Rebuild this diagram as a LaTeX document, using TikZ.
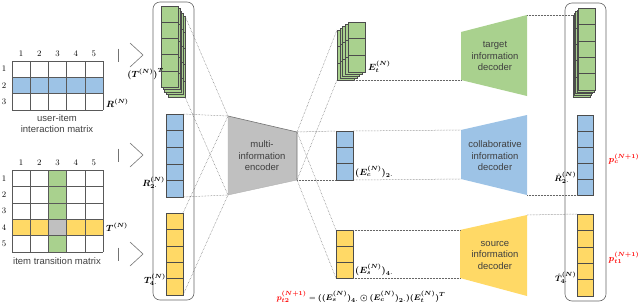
\documentclass[tikz,border=0pt]{standalone}
\usepackage{fontspec}
\usepackage{amsmath,bm}
\newfontfamily\sansf{Liberation Sans}
\definecolor{cgreen}{HTML}{A9D18E}
\definecolor{cblue}{HTML}{9DC3E6}
\definecolor{cyellow}{HTML}{FFD966}
\definecolor{cgray}{HTML}{C0C0C0}
\definecolor{ctext}{HTML}{404040}
\newcommand{\vcolumn}[6]{%
  \foreach \k in {1,...,#5} {\draw[cellst, fill=#6] (#1,{#2+(\k-1)*#4}) rectangle ++(#3,#4);}}
\begin{document}
\begin{tikzpicture}[x=1pt,y=-1pt,
  cellst/.style={draw=black!70, line width=0.5pt},
  gridst/.style={draw=black!65, line width=0.6pt},
  dots/.style={draw=black!60, densely dotted, line width=0.5pt},
  boxst/.style={draw=black!60, line width=0.6pt, rounded corners=7pt},
  arrst/.style={draw=black!55, line width=0.6pt},
  txt/.style={font=\sansf\fontsize{9.5}{11.5}\selectfont, text=ctext, align=center, inner sep=0pt},
  num/.style={font=\fontsize{8.5}{9}\selectfont, inner sep=0pt},
  lbl/.style={font=\fontsize{8.8}{10}\selectfont, inner sep=0pt},
  slbl/.style={font=\fontsize{8}{9}\selectfont, inner sep=0pt},
  redlbl/.style={font=\fontsize{8.8}{10}\selectfont, inner sep=0pt, text=red}
]
\useasboundingbox (0,0) rectangle (640,306);

% ---------- user-item matrix R ----------
\fill[cblue] (12,77.33) rectangle (103,93.67);
\foreach \c in {0,...,5} \draw[gridst] ({12+18.2*\c},61) -- ({12+18.2*\c},110);
\foreach \r in {0,...,3} \draw[gridst] (12,{61+16.33*\r}) -- (103,{61+16.33*\r});
\foreach \c in {1,...,5} \node[num] (rh\c) at ({12+18.2*(\c-0.5)},54) {\c};
\foreach \r in {1,2,3} \node[num] (rr\r) at (4,{61+16.33*(\r-0.5)}) {\r};
\node[lbl, anchor=west] (Rlab) at (106,103) {$\bm{R^{(N)}}$};
\node[txt] (Rcap) at (57,123.5) {user-item\\interaction matrix};

% ---------- item transition matrix T ----------
\fill[cgreen] (48.4,170) rectangle (66.6,252);
\fill[cyellow] (12,219.2) rectangle (103,235.6);
\fill[cgray] (48.4,219.2) rectangle (66.6,235.6);
\foreach \c in {0,...,5} \draw[gridst] ({12+18.2*\c},170) -- ({12+18.2*\c},252);
\foreach \r in {0,...,5} \draw[gridst] (12,{170+16.4*\r}) -- (103,{170+16.4*\r});
\foreach \c in {1,...,5} \node[num] (th\c) at ({12+18.2*(\c-0.5)},163) {\c};
\foreach \r in {1,...,5} \node[num] (tr\r) at (4,{170+16.4*(\r-0.5)}) {\r};
\node[lbl, anchor=west] (Tlab) at (106,227) {$\bm{T^{(N)}}$};
\node[txt] (Tcap) at (57,261) {item transition matrix};

% ---------- hollow arrows ----------
\foreach \cy/\nm in {55/a1,155/a2,254/a3} {
  \coordinate (\nm-tt) at (118,\cy-6.5);
  \coordinate (\nm-tb) at (118,\cy+6.5);
  \coordinate (\nm-h1) at (130,\cy-12);
  \coordinate (\nm-tip) at (143,\cy);
  \coordinate (\nm-h2) at (130,\cy+12);
  \draw[arrst] (\nm-tt) -- (\nm-tb);
  \draw[arrst] (\nm-h1) -- (\nm-tip) -- (\nm-h2);
}

% ---------- left bracket box ----------
\draw[boxst] (153,2) rectangle (194,300);

% left green stack (T^T)
\foreach \i in {4,3,2,1,0} {\vcolumn{161+1.75*\i}{6+2.5*\i}{17}{16.2}{5}{cgreen}}
\coordinate (gL-tr) at (185,16);
\coordinate (gL-br) at (185,97);
\node[lbl, anchor=east] (TTlab) at (164,74) {$\bm{(T^{(N)})^T}$};

% left blue column
\vcolumn{166}{114}{17}{16.6}{5}{cblue}
\coordinate (bL-tr) at (183,114);
\coordinate (bL-br) at (183,197);
\node[lbl, anchor=east] (R2lab) at (165,183) {$\bm{R^{(N)}_{2\cdot}}$};

% left yellow column
\vcolumn{166}{213}{17}{16.4}{5}{cyellow}
\coordinate (yL-tr) at (183,213);
\coordinate (yL-br) at (183,295);
\node[lbl, anchor=east] (T4lab) at (166,280) {$\bm{T^{(N)}_{4\cdot}}$};

% ---------- encoder ----------
\coordinate (enc-tl) at (228,116);
\coordinate (enc-tr) at (297,132);
\coordinate (enc-br) at (297,180);
\coordinate (enc-bl) at (228,195);
\fill[cgray] (enc-tl) -- (enc-tr) -- (enc-br) -- (enc-bl) -- cycle;
\draw[draw=black!55, line width=0.6pt] (enc-tl) -- (enc-tr) -- (enc-br);
\draw[draw=black!30, line width=0.4pt] (enc-br) -- (enc-bl) -- (enc-tl);
\node[txt] (enc) at (262,156) {multi-\\information\\encoder};

% left dotted projections
\draw[dots] (gL-tr) -- (enc-tl);
\draw[dots] (gL-br) -- (enc-bl);
\draw[dots] (bL-tr) -- (enc-tl);
\draw[dots] (bL-br) -- (enc-bl);
\draw[dots] (yL-tr) -- (enc-tl);
\draw[dots] (yL-br) -- (enc-bl);

% ---------- embeddings ----------
\foreach \i in {4,3,2,1,0} {\vcolumn{348-2.75*\i}{22+2*\i}{17}{16.67}{3}{cgreen}}
\coordinate (Et-tl) at (337,30);
\coordinate (Et-bl) at (337,80);
\coordinate (Et-br) at (354,80);
\node[lbl, anchor=west] (Etlab) at (368,67) {$\bm{E_t^{(N)}}$};

\vcolumn{336}{131}{17}{16.33}{3}{cblue}
\coordinate (Ec-tl) at (336,131);
\coordinate (Ec-bl) at (336,180);
\coordinate (Ec-tr) at (353,131);
\coordinate (Ec-br) at (353,180);
\node[lbl, anchor=west] (Eclab) at (355,172) {$\bm{(E_c^{(N)})_{2\cdot}}$};

\vcolumn{336}{230}{17}{16}{3}{cyellow}
\coordinate (Es-tl) at (336,230);
\coordinate (Es-bl) at (336,278);
\coordinate (Es-tr) at (353,230);
\coordinate (Es-br) at (353,278);
\node[lbl, anchor=west] (Eslab) at (355,270) {$\bm{(E_s^{(N)})_{4\cdot}}$};

\draw[dots] (enc-tr) -- (Et-tl);
\draw[dots] (enc-br) -- (Et-bl);
\draw[dots] (enc-tr) -- (Ec-tl);
\draw[dots] (enc-br) -- (Ec-bl);
\draw[dots] (enc-tr) -- (Es-tl);
\draw[dots] (enc-br) -- (Es-bl);

% ---------- decoders ----------
\coordinate (td-tl) at (461,32);
\coordinate (td-tr) at (527,15);
\coordinate (td-br) at (527,96);
\coordinate (td-bl) at (461,80);
\fill[cgreen] (td-tl) -- (td-tr) -- (td-br) -- (td-bl) -- cycle;
\node[txt] (tdec) at (495,56) {target\\information\\decoder};

\coordinate (cd-tl) at (461,130);
\coordinate (cd-tr) at (527,115);
\coordinate (cd-br) at (527,195);
\coordinate (cd-bl) at (461,179);
\fill[cblue] (cd-tl) -- (cd-tr) -- (cd-br) -- (cd-bl) -- cycle;
\node[txt] (cdec) at (495,156) {collaborative\\information\\decoder};

\coordinate (sd-tl) at (460,230);
\coordinate (sd-tr) at (527,215);
\coordinate (sd-br) at (527,296);
\coordinate (sd-bl) at (460,278);
\fill[cyellow] (sd-tl) -- (sd-tr) -- (sd-br) -- (sd-bl) -- cycle;
\node[txt] (sdec) at (495,255) {source\\information\\decoder};

\draw[dots] (Et-br) -- (td-bl);
\draw[dots] (Ec-tr) -- (cd-tl);
\draw[dots] (Ec-br) -- (cd-bl);
\draw[dots] (Es-tr) -- (sd-tl);
\draw[dots] (Es-br) -- (sd-bl);

% ---------- right bracket box ----------
\draw[boxst] (565,3) rectangle (606,301);

\foreach \i in {4,3,2,1,0} {\vcolumn{578-1.25*\i}{8+1.75*\i}{17}{16.4}{5}{cgreen}}
\coordinate (gR-tl) at (573,15);

\vcolumn{577}{115}{16}{16}{5}{cblue}
\coordinate (bR-bl) at (577,195);
\node[slbl, anchor=east] (Rhlab) at (576.5,178) {$\bm{\hat{R}^{(N)}_{2\cdot}}$};

\vcolumn{577}{214}{16}{16.4}{5}{cyellow}
\coordinate (yR-tl) at (577,214);
\node[slbl, anchor=east] (Thlab) at (576.5,278) {$\bm{\hat{T}^{(N)}_{4\cdot}}$};

\draw[dots] (td-tr) -- (gR-tl);
\draw[dots] (cd-br) -- (bR-bl);
\draw[dots] (sd-tr) -- (yR-tl);

% ---------- predictions ----------
\node[redlbl] (pc) at (624,159) {$\bm{p_c^{(N+1)}}$};
\node[redlbl] (pt1) at (624,258) {$\bm{p_{t1}^{(N+1)}}$};
\node[slbl] (form) at (361,297) {$\textcolor{red}{\bm{p_{t2}^{(N+1)}}} = \bm{((E_s^{(N)})_{4\cdot}\odot(E_c^{(N)})_{2\cdot})(E_t^{(N)})^T}$};
\end{tikzpicture}
\end{document}
